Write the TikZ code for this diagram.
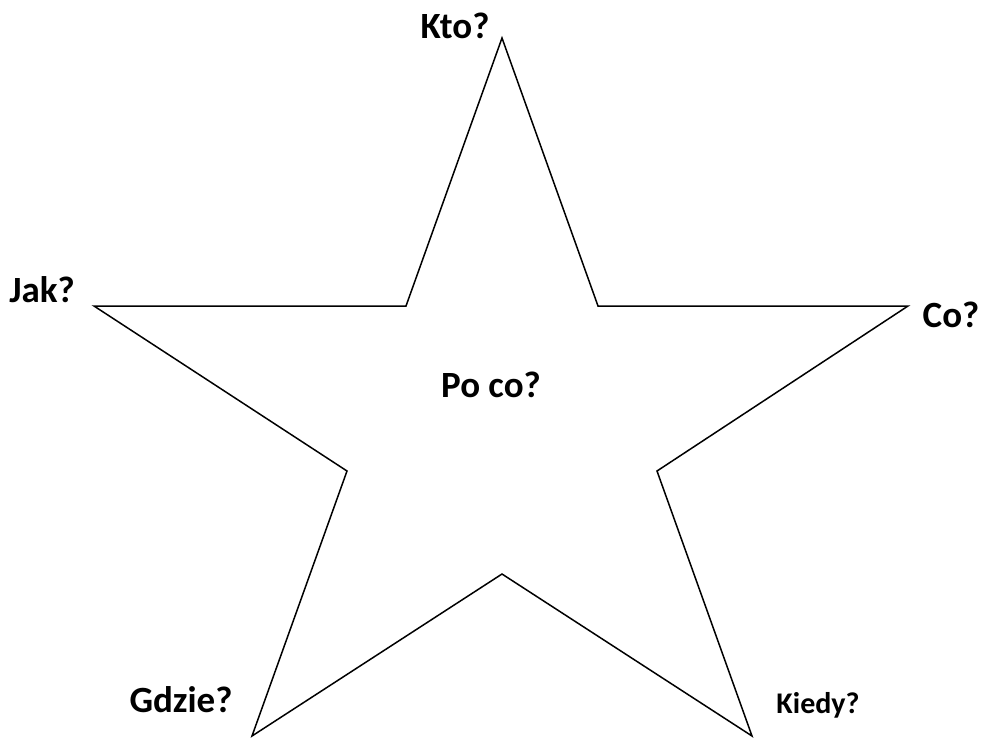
\documentclass[tikz,border=0pt]{standalone}
\usepackage{fontspec}
\setmainfont{Carlito}
\usepackage{tikz}
\usetikzlibrary{positioning,calc}
\tikzset{
    starline/.style={
        draw,
        line width=1.5pt,
        line join=miter
    },
    qlbl/.style={
        font=\fontsize{37}{42}\selectfont\bfseries,
        inner sep=0pt,
        anchor=base
    },
    qsmall/.style={
        qlbl,
        font=\fontsize{30}{35}\selectfont\bfseries
    }
}
\begin{document}
\begin{tikzpicture}[x=1pt, y=-1pt]
\useasboundingbox (0,0) rectangle (982,737);

% points of the star
\coordinate (top) at (502,38);
\coordinate (itr) at (598,306);
\coordinate (right) at (908,306);
\coordinate (ir) at (657,471);
\coordinate (br) at (752,736);
\coordinate (ib) at (502,574);
\coordinate (bl) at (252,736);
\coordinate (il) at (347,471);
\coordinate (left) at (94,306);
\coordinate (itl) at (406,306);

\draw[starline] (top) -- (itr) -- (right) -- (ir) -- (br) -- (ib)
    -- (bl) -- (il) -- (left) -- (itl) -- cycle;

% questions
\node[qlbl] (kto) at (455,38) {Kto?};
\node[qlbl] (jak) at (42,302) {Jak?};
\node[qlbl] (co) at (951,327) {Co?};
\node[qlbl] (poco) at (491,397) {Po co?};
\node[qlbl] (gdzie) at (181,712) {Gdzie?};
\node[qsmall] (kiedy) at (818,713) {Kiedy?};

\end{tikzpicture}
\end{document}
